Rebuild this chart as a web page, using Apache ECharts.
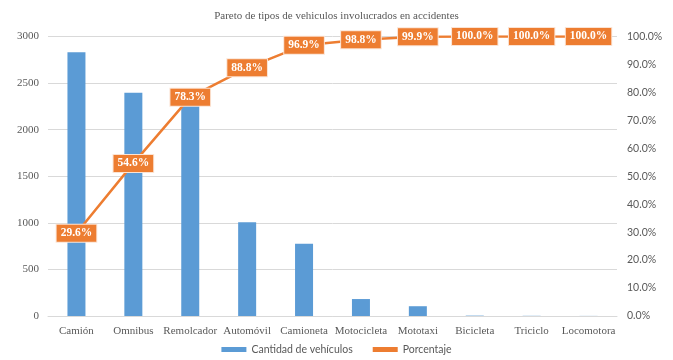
<!DOCTYPE html>
<html>
<head>
<meta charset="utf-8">
<script src="https://cdn.jsdelivr.net/npm/echarts@6/dist/echarts.min.js"></script>
<style>
  html, body { margin: 0; padding: 0; background: #fff; }
  #chart { width: 673px; height: 360px; }
</style>
</head>
<body>
<div id="chart"></div>
<script>
// Vehicle types involved in accidents, sorted by count (Pareto order)
const categories = ['Camión', 'Omnibus', 'Remolcador', 'Automóvil', 'Camioneta',
  'Motocicleta', 'Mototaxi', 'Bicicleta', 'Triciclo', 'Locomotora'];
// Number of vehicles per type
const vehicleCounts = [2830, 2395, 2265, 1005, 775, 182, 105, 4, 2, 1];
// Cumulative percentage shown on the Pareto line
const cumulativePct = [29.6, 54.6, 78.3, 88.8, 96.9, 98.8, 99.9, 100.0, 100.0, 100.0];

const chart = echarts.init(document.getElementById('chart'));
const serif = '"Liberation Serif", "DejaVu Serif", serif';
const sans = 'Lato, "Open Sans", sans-serif';
const grey = '#595959';

chart.setOption({
  animation: false,
  title: {
    text: 'Pareto de tipos de vehiculos involucrados en accidentes',
    left: 'center',
    top: 6,
    textStyle: { fontFamily: serif, fontSize: 11, fontWeight: 'normal', color: grey }
  },
  legend: {
    bottom: 0,
    left: 'center',
    itemWidth: 25,
    itemHeight: 5,
    itemGap: 20,
    textStyle: { fontFamily: sans, fontSize: 10.5, color: grey },
    data: [
      { name: 'Cantidad de vehículos', icon: 'rect' },
      { name: 'Porcentaje', icon: 'rect', itemStyle: { color: '#ED7D31' } }
    ]
  },
  grid: { left: 48, right: 56, top: 36.5, bottom: 44 },
  xAxis: {
    type: 'category',
    data: categories,
    axisTick: { show: false },
    axisLine: { lineStyle: { color: '#d9d9d9', width: 1 } },
    axisLabel: { fontFamily: serif, fontSize: 11, color: grey, margin: 10, interval: 0 }
  },
  yAxis: [
    {
      type: 'value',
      min: 0, max: 3000, interval: 500,
      axisLine: { show: false },
      axisTick: { show: false },
      splitLine: { lineStyle: { color: '#d9d9d9', width: 1 } },
      axisLabel: {
        fontFamily: serif, fontSize: 11, color: grey, margin: 9,
        formatter: v => String(v)
      }
    },
    {
      type: 'value',
      min: 0, max: 100, interval: 10,
      position: 'right',
      axisLine: { show: false },
      axisTick: { show: false },
      splitLine: { show: false },
      axisLabel: {
        fontFamily: sans, fontSize: 10.5, color: grey, margin: 10,
        formatter: v => v.toFixed(1) + '%'
      }
    }
  ],
  series: [
    {
      name: 'Cantidad de vehículos',
      type: 'bar',
      data: vehicleCounts,
      barWidth: 18,
      itemStyle: { color: '#5B9BD5' }
    },
    {
      name: 'Porcentaje',
      type: 'line',
      yAxisIndex: 1,
      data: cumulativePct,
      symbol: 'circle',
      symbolSize: 1,
      itemStyle: { color: '#ED7D31' },
      lineStyle: { color: '#ED7D31', width: 2.5 },
      label: {
        show: true,
        position: 'inside',
        formatter: p => p.value.toFixed(1) + '%',
        fontFamily: serif,
        fontSize: 11.5,
        fontWeight: 'bold',
        color: '#fff',
        backgroundColor: '#ED7D31',
        borderColor: '#fbe3d3',
        borderWidth: 1,
        padding: [3, 4, 2, 4]
      }
    }
  ]
});
</script>
</body>
</html>
